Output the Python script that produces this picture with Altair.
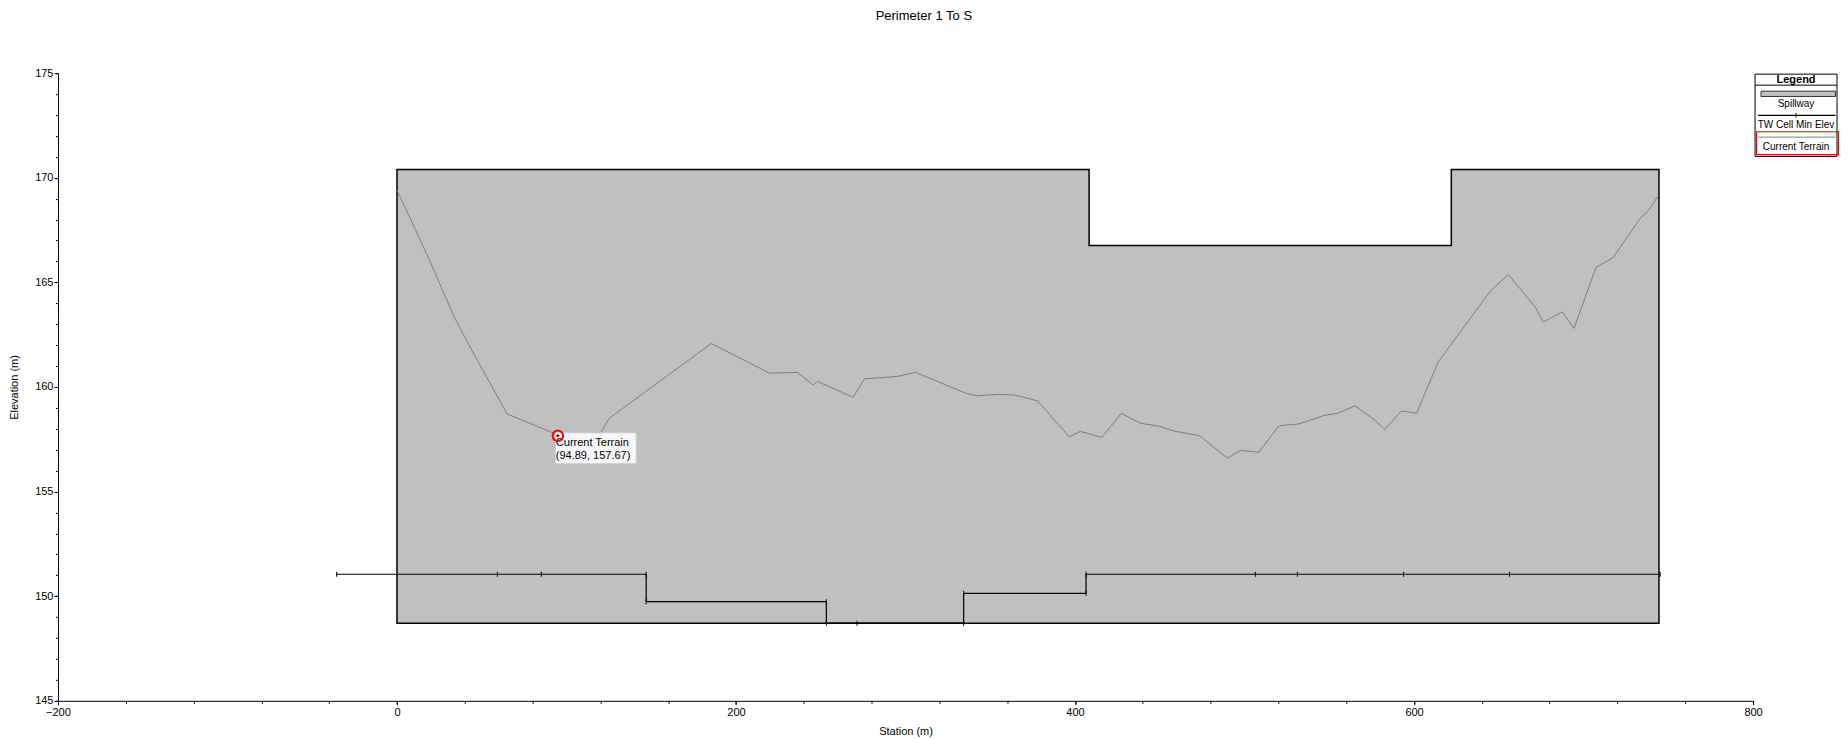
import altair as alt
import pandas as pd

# ---------------- data ----------------
chart_title = "Perimeter 1 To S"
x_title = "Station (m)"
y_title = "Elevation (m)"

terrain_station = [0.0, 6.0, 19.2, 33.7, 45.7, 65.0, 91.4, 94.89, 120.4, 125.2,
                   185.4, 219.8, 236.4, 245.5, 248.0, 269.1, 275.7, 294.9, 305.8,
                   335.9, 341.9, 355.2, 364.8, 377.8, 396.6, 403.2, 415.8, 427.3,
                   438.9, 449.3, 459.1, 473.6, 489.8, 497.9, 508.3, 520.4, 531.9,
                   547.1, 554.9, 565.1, 576.8, 582.8, 592.5, 601.5, 614.3, 644.7,
                   655.6, 671.4, 676.2, 687.4, 694.4, 707.3, 717.5, 733.3, 738.1,
                   744.2]
terrain_elev = [169.40, 168.37, 166.06, 163.35, 161.52, 158.71, 157.83, 157.67, 157.83, 158.50,
                162.08, 160.66, 160.70, 160.09, 160.27, 159.50, 160.39, 160.50, 160.70,
                159.69, 159.58, 159.65, 159.61, 159.34, 157.62, 157.88, 157.59, 158.74,
                158.26, 158.13, 157.88, 157.67, 156.60, 156.97, 156.88, 158.15, 158.23,
                158.64, 158.74, 159.10, 158.42, 157.97, 158.85, 158.75, 161.20, 164.55,
                165.38, 163.83, 163.10, 163.59, 162.80, 165.71, 166.19, 168.05, 168.41,
                169.16]

spill_station = [0.0, 408.3, 622.0, 744.5]
spill_top = [170.39, 166.76, 170.39, 170.39]
spill_bottom = 148.71

tw_station = [-35.6, 59.2, 85.1, 147.0, 147.0, 253.3, 253.3, 271.4, 334.3, 334.3,
              406.5, 406.5, 506.4, 531.2, 593.8, 656.3, 745.2]
tw_elev = [151.05, 151.05, 151.05, 151.05, 149.74, 149.74, 148.71, 148.71, 148.71, 150.14,
           150.14, 151.05, 151.05, 151.05, 151.05, 151.05, 151.05]

probe_series = "Current Terrain"
probe_station = 94.89
probe_elev = 157.67

x_major = [-200, 0, 200, 400, 600, 800]
x_minor = [-200, -160, -120, -80, -40, 0, 40, 80, 120, 160, 200, 240, 280, 320, 360,
           400, 440, 480, 520, 560, 600, 640, 680, 720, 760, 800]
y_major = [145, 150, 155, 160, 165, 170, 175]
y_minor = [145, 146, 147, 148, 149, 150, 151, 152, 153, 154, 155, 156, 157, 158, 159, 160,
           161, 162, 163, 164, 165, 166, 167, 168, 169, 170, 171, 172, 173, 174, 175]

legend_title = "Legend"
legend_labels = ["Spillway", "TW Cell Min Elev", "Current Terrain"]

# ---------------- layout / style ----------------
W, H = 1696, 628
FONT = "Liberation Sans"
GREY_FILL = "#C0C0C0"

terrain_df = pd.DataFrame({"station": terrain_station, "elev": terrain_elev,
                           "order": list(range(len(terrain_station)))})
spill_df = pd.DataFrame({"station": spill_station, "top": spill_top,
                         "bottom": [spill_bottom] * len(spill_station)})
tw_df = pd.DataFrame({"station": tw_station, "elev": tw_elev,
                      "order": list(range(len(tw_station)))})
probe_df = pd.DataFrame({"station": [probe_station], "elev": [probe_elev],
                         "name": [probe_series],
                         "coord": [f"({probe_station:.2f}, {probe_elev:.2f})"]})
one = pd.DataFrame({"k": [0]})

xs = alt.Scale(domain=[-200, 800], nice=False, zero=False)
ys = alt.Scale(domain=[145, 175], nice=False, zero=False)

common_axis = dict(grid=False, labelFont=FONT, labelFontSize=11, labelColor="black",
                   tickColor="black", domainColor="black", labelFlush=False,
                   labelOverlap=False, titleFont=FONT, titleFontSize=11,
                   titleFontWeight="normal", titleColor="black")

x_axis_major = alt.Axis(values=x_major, tickSize=4, labelPadding=2, title=x_title,
                        titlePadding=8, orient="bottom", format="d", **common_axis)
y_axis_major = alt.Axis(values=y_major, tickSize=4, labelPadding=1, title=y_title,
                        titlePadding=15, orient="left", format="d", **common_axis)
x_axis_minor = alt.Axis(values=x_minor, tickSize=2.5, labels=False, domain=False,
                        grid=False, tickColor="black", title=None, orient="bottom")
y_axis_minor = alt.Axis(values=y_minor, tickSize=2.5, labels=False, domain=False,
                        grid=False, tickColor="black", title=None, orient="left")

spill = alt.Chart(spill_df).mark_area(
    interpolate="step-after", fill=GREY_FILL, stroke="black", strokeWidth=1.5
).encode(
    x=alt.X("station:Q", scale=xs, axis=x_axis_major),
    y=alt.Y("top:Q", scale=ys, axis=y_axis_major),
    y2="bottom:Q",
)

terrain = alt.Chart(terrain_df).mark_line(color="#808080", strokeWidth=1).encode(
    x=alt.X("station:Q", scale=xs, axis=x_axis_minor),
    y=alt.Y("elev:Q", scale=ys, axis=y_axis_minor),
    order="order:Q",
)

tw_line = alt.Chart(tw_df).mark_line(color="black", strokeWidth=1.2).encode(
    x=alt.X("station:Q", scale=xs, axis=None),
    y=alt.Y("elev:Q", scale=ys, axis=None),
    order="order:Q",
)

tw_ticks = alt.Chart(tw_df).mark_tick(orient="vertical", size=5, thickness=1,
                                      color="black", opacity=1).encode(
    x=alt.X("station:Q", scale=xs, axis=None),
    y=alt.Y("elev:Q", scale=ys, axis=None),
)

probe_box = alt.Chart(probe_df).mark_rect(
    width=81, height=31, xOffset=38, yOffset=12.5, fill="#f8f8f8",
    stroke="#cccccc", strokeWidth=1, cornerRadius=2
).encode(
    x=alt.X("station:Q", scale=xs, axis=None),
    y=alt.Y("elev:Q", scale=ys, axis=None),
)

probe_name = alt.Chart(probe_df).mark_text(
    align="left", baseline="middle", dx=-2, dy=7.5, font=FONT, fontSize=11, color="black"
).encode(
    x=alt.X("station:Q", scale=xs, axis=None),
    y=alt.Y("elev:Q", scale=ys, axis=None),
    text="name:N",
)

probe_coord = alt.Chart(probe_df).mark_text(
    align="left", baseline="middle", dx=-2, dy=20.5, font=FONT, fontSize=11, color="black"
).encode(
    x=alt.X("station:Q", scale=xs, axis=None),
    y=alt.Y("elev:Q", scale=ys, axis=None),
    text="coord:N",
)

probe_ring = alt.Chart(probe_df).mark_point(
    shape="circle", size=110, filled=False, color="red", strokeWidth=2, opacity=1
).encode(
    x=alt.X("station:Q", scale=xs, axis=None),
    y=alt.Y("elev:Q", scale=ys, axis=None),
)

probe_cross = alt.Chart(probe_df).mark_point(
    shape="cross", size=10, filled=True, color="#600000", opacity=1
).encode(
    x=alt.X("station:Q", scale=xs, axis=None),
    y=alt.Y("elev:Q", scale=ys, axis=None),
)

# ---------------- custom legend (drawn to the right of the plot) ----------------
L0, L1 = W + 2, W + 84
LC = (L0 + L1) / 2

leg_box = alt.Chart(one).mark_rect(fill="white", stroke="black", strokeWidth=1).encode(
    x=alt.value(L0), x2=alt.value(L1), y=alt.value(1), y2=alt.value(83.3))
leg_head_rule = alt.Chart(one).mark_rule(color="black", strokeWidth=1).encode(
    x=alt.value(L0), x2=alt.value(L1), y=alt.value(12))
leg_head = alt.Chart(one).mark_text(font=FONT, fontSize=11, fontWeight="bold",
                                    color="black", baseline="middle").encode(
    x=alt.value(LC), y=alt.value(6.5), text=alt.value(legend_title))
leg_swatch = alt.Chart(one).mark_rect(fill=GREY_FILL, stroke="#303030", strokeWidth=1).encode(
    x=alt.value(W + 8), x2=alt.value(W + 82.5), y=alt.value(18), y2=alt.value(23.3))
leg_t1 = alt.Chart(one).mark_text(font=FONT, fontSize=10, color="black",
                                  baseline="middle").encode(
    x=alt.value(LC), y=alt.value(31.3), text=alt.value(legend_labels[0]))
leg_tw = alt.Chart(one).mark_rule(color="black", strokeWidth=1.2).encode(
    x=alt.value(W + 5), x2=alt.value(W + 82.5), y=alt.value(42.3))
leg_tw_tick = alt.Chart(one).mark_rule(color="black", strokeWidth=1).encode(
    x=alt.value(LC), y=alt.value(40), y2=alt.value(44.6))
leg_t2 = alt.Chart(one).mark_text(font=FONT, fontSize=10, color="black",
                                  baseline="middle").encode(
    x=alt.value(LC), y=alt.value(52.3), text=alt.value(legend_labels[1]))
leg_sel = alt.Chart(one).mark_rect(fill="white", fillOpacity=0, stroke="#e00000",
                                   strokeWidth=1.2).encode(
    x=alt.value(W + 3.5), x2=alt.value(W + 85.5), y=alt.value(58.6), y2=alt.value(81.6))
leg_terrain = alt.Chart(one).mark_rule(color="#808080", strokeWidth=1).encode(
    x=alt.value(W + 5), x2=alt.value(W + 82.5), y=alt.value(64))
leg_t3 = alt.Chart(one).mark_text(font=FONT, fontSize=10, color="black",
                                  baseline="middle").encode(
    x=alt.value(LC), y=alt.value(74), text=alt.value(legend_labels[2]))

chart = alt.layer(
    spill, terrain, tw_line, tw_ticks,
    probe_box, probe_name, probe_coord, probe_ring, probe_cross,
    leg_box, leg_head_rule, leg_head, leg_swatch, leg_t1, leg_tw, leg_tw_tick, leg_t2,
    leg_sel, leg_terrain, leg_t3,
).resolve_axis(
    x="independent", y="independent"
).properties(
    width=W, height=H,
    padding={"left": 0, "top": 2, "right": 0, "bottom": 0},
    title=alt.TitleParams(chart_title, font=FONT, fontSize=13, fontWeight="normal",
                          color="black", anchor="middle", frame="bounds", offset=44),
    background="white",
).configure_view(strokeWidth=0)

chart.save("out.html", embed_options={"renderer": "svg", "actions": False})
